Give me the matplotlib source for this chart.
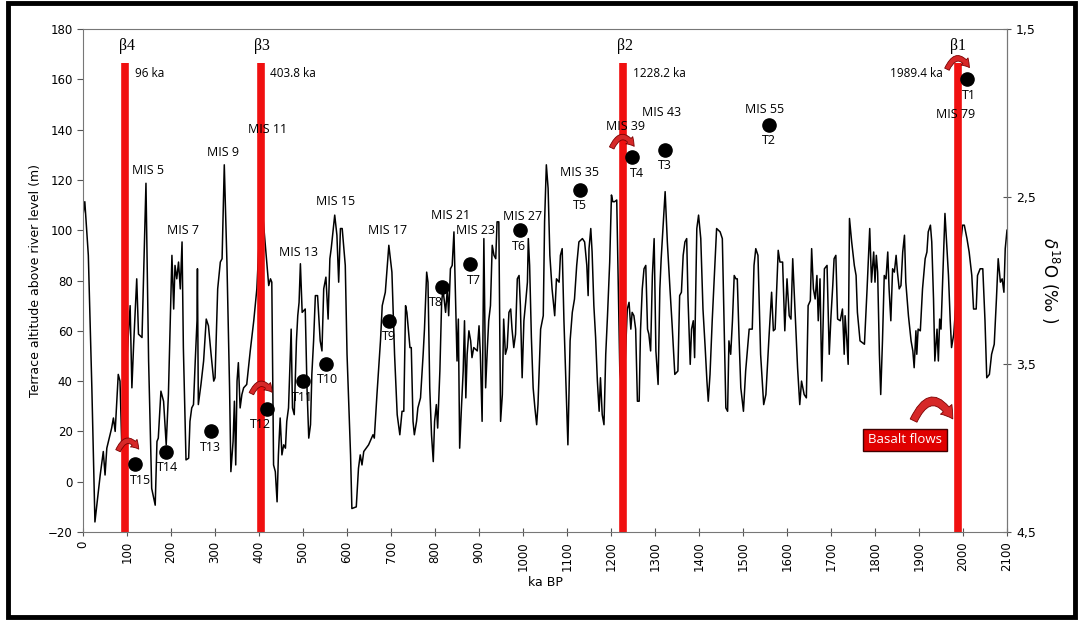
import matplotlib.pyplot as plt
from matplotlib.patches import FancyArrowPatch, Rectangle

# d18O curve (ka BP, permil)
ka = [0, 4, 12, 20, 27, 39, 46, 50, 54, 65, 69, 73, 80, 84, 88, 107, 111, 115, 122, 126,
      134, 143, 149, 156, 164, 168, 171, 177, 183, 189, 194, 202, 206, 209, 213, 217, 221, 225, 228, 234,
      240, 243, 247, 251, 255, 259, 260, 262, 268, 274, 280, 285, 291, 297, 300, 306, 312, 316, 321, 327,
      333, 336, 341, 344, 347, 350, 353, 357, 361, 365, 372, 380, 388, 395, 405, 418, 422, 426, 429, 433,
      437, 441, 444, 448, 452, 456, 460, 463, 467, 473, 476, 480, 485, 488, 491, 494, 498, 505, 509, 513,
      517, 520, 524, 528, 533, 539, 543, 547, 552, 557, 561, 564, 568, 572, 577, 581, 585, 589, 596, 600,
      608, 611, 621, 626, 630, 634, 638, 649, 659, 662, 668, 676, 680, 687, 695, 702, 708, 714, 720, 725,
      729, 733, 736, 743, 746, 750, 753, 758, 761, 767, 773, 776, 781, 784, 788, 792, 796, 799, 803, 806,
      811, 815, 818, 824, 828, 831, 835, 839, 843, 846, 850, 853, 856, 860, 864, 867, 870, 873, 877, 881,
      884, 888, 896, 900, 903, 907, 911, 915, 919, 922, 926, 930, 934, 938, 941, 945, 949, 953, 956, 960,
      964, 968, 972, 975, 979, 983, 987, 991, 994, 998, 1002, 1006, 1010, 1012, 1015, 1019, 1023, 1027, 1031, 1034,
      1040, 1046, 1049, 1053, 1057, 1061, 1066, 1072, 1076, 1082, 1085, 1089, 1093, 1098, 1102, 1107, 1112, 1117, 1122, 1127,
      1135, 1140, 1145, 1148, 1150, 1154, 1157, 1161, 1165, 1169, 1173, 1176, 1180, 1184, 1188, 1192, 1197, 1201, 1204, 1208,
      1213, 1216, 1220, 1228, 1237, 1241, 1245, 1248, 1252, 1256, 1260, 1264, 1267, 1271, 1275, 1279, 1283, 1286, 1290, 1294,
      1298, 1302, 1307, 1311, 1314, 1319, 1323, 1328, 1334, 1339, 1345, 1352, 1356, 1360, 1364, 1368, 1372, 1375, 1380, 1383,
      1387, 1390, 1395, 1399, 1404, 1409, 1414, 1418, 1421, 1425, 1430, 1436, 1440, 1448, 1453, 1457, 1461, 1465, 1468, 1472,
      1476, 1480, 1484, 1487, 1491, 1495, 1501, 1506, 1514, 1521, 1525, 1529, 1534, 1540, 1547, 1552, 1559, 1565, 1569, 1573,
      1580, 1584, 1590, 1595, 1600, 1605, 1609, 1613, 1616, 1624, 1629, 1633, 1639, 1644, 1648, 1653, 1656, 1660, 1664, 1668,
      1671, 1675, 1679, 1685, 1691, 1696, 1700, 1704, 1707, 1711, 1715, 1721, 1726, 1730, 1732, 1736, 1739, 1742, 1747, 1753,
      1757, 1760, 1766, 1776, 1782, 1785, 1788, 1792, 1797, 1800, 1803, 1806, 1810, 1813, 1817, 1821, 1825, 1829, 1832, 1836,
      1840, 1844, 1848, 1851, 1855, 1859, 1863, 1867, 1870, 1876, 1882, 1886, 1889, 1893, 1895, 1898, 1903, 1908, 1914, 1918,
      1921, 1926, 1929, 1933, 1936, 1941, 1944, 1947, 1950, 1955, 1959, 1964, 1967, 1971, 1974, 1979, 1990, 1999, 2003, 2009,
      2014, 2020, 2024, 2030, 2033, 2039, 2045, 2050, 2054, 2060, 2065, 2071, 2076, 2080, 2085, 2089, 2093, 2096, 2100]
d18o = [2.61, 2.53, 2.85, 3.64, 4.44, 4.16, 4.02, 4.16, 4.00, 3.88, 3.82, 3.90, 3.56, 3.60, 3.98, 3.15, 3.64, 3.38, 2.99, 3.32,
        3.34, 2.42, 3.48, 4.24, 4.34, 3.96, 3.94, 3.66, 3.72, 3.98, 3.68, 2.85, 3.17, 2.91, 2.99, 2.89, 3.05, 2.77, 3.40, 4.07,
        4.06, 3.84, 3.76, 3.74, 3.48, 3.24, 2.93, 3.74, 3.62, 3.48, 3.23, 3.27, 3.44, 3.60, 3.58, 3.05, 2.89, 2.87, 2.31, 2.89,
        3.64, 4.14, 3.96, 3.72, 4.10, 3.60, 3.49, 3.76, 3.68, 3.64, 3.62, 3.42, 3.24, 3.05, 2.50, 2.91, 3.03, 2.99, 3.01, 4.10,
        4.14, 4.32, 4.04, 3.82, 4.04, 3.98, 4.00, 3.84, 3.76, 3.29, 3.76, 3.80, 3.36, 3.21, 3.13, 2.90, 3.19, 3.17, 3.64, 3.94,
        3.86, 3.56, 3.36, 3.09, 3.09, 3.36, 3.42, 3.05, 2.98, 3.23, 2.87, 2.81, 2.71, 2.61, 2.73, 3.01, 2.69, 2.69, 2.91, 3.44,
        4.04, 4.36, 4.35, 4.12, 4.04, 4.10, 4.02, 3.98, 3.92, 3.94, 3.68, 3.36, 3.15, 3.07, 2.79, 2.95, 3.44, 3.80, 3.92, 3.78,
        3.78, 3.15, 3.19, 3.40, 3.40, 3.84, 3.92, 3.84, 3.76, 3.70, 3.44, 3.29, 2.95, 3.01, 3.64, 3.92, 4.08, 3.84, 3.74, 3.88,
        3.54, 3.13, 3.05, 3.19, 3.05, 3.21, 2.93, 2.91, 2.71, 3.05, 3.48, 3.23, 4.00, 3.76, 3.54, 3.24, 3.70, 3.44, 3.30, 3.36,
        3.46, 3.40, 3.42, 3.27, 3.44, 3.84, 2.75, 3.64, 3.40, 3.24, 3.15, 2.79, 2.85, 2.87, 2.65, 2.65, 3.84, 3.68, 3.23, 3.44,
        3.40, 3.19, 3.17, 3.29, 3.40, 3.32, 2.99, 2.97, 3.15, 3.58, 3.24, 3.13, 3.01, 2.75, 2.91, 3.34, 3.64, 3.76, 3.86, 3.74,
        3.29, 3.21, 2.65, 2.31, 2.45, 2.85, 3.05, 3.21, 2.99, 3.01, 2.85, 2.81, 3.24, 3.64, 3.98, 3.36, 3.19, 3.11, 2.91, 2.77,
        2.75, 2.77, 2.91, 3.09, 2.81, 2.69, 2.83, 3.15, 3.34, 3.60, 3.78, 3.58, 3.80, 3.86, 3.44, 3.21, 2.89, 2.49, 2.53, 2.53,
        2.52, 2.95, 3.54, 3.75, 3.17, 3.13, 3.29, 3.19, 3.21, 3.29, 3.72, 3.72, 3.30, 3.05, 2.93, 2.91, 3.29, 3.32, 3.42, 2.97,
        2.75, 3.42, 3.62, 3.05, 2.87, 2.65, 2.47, 2.77, 3.05, 3.27, 3.56, 3.54, 3.09, 3.07, 2.85, 2.77, 2.75, 3.11, 3.50, 3.29,
        3.24, 3.46, 2.69, 2.61, 2.75, 3.17, 3.40, 3.60, 3.72, 3.56, 3.24, 2.91, 2.69, 2.71, 2.75, 3.24, 3.76, 3.78, 3.36, 3.44,
        3.24, 2.97, 2.99, 2.99, 3.34, 3.64, 3.78, 3.54, 3.29, 3.29, 2.91, 2.81, 2.85, 3.44, 3.74, 3.68, 3.34, 3.07, 3.30, 3.29,
        2.82, 2.89, 2.89, 3.30, 2.99, 3.21, 3.23, 2.87, 3.05, 3.52, 3.74, 3.60, 3.68, 3.70, 3.15, 3.12, 2.81, 3.05, 3.11, 2.97,
        3.24, 2.99, 3.60, 2.93, 2.91, 3.44, 3.21, 3.03, 2.87, 2.85, 3.23, 3.24, 3.17, 3.44, 3.21, 3.36, 3.50, 2.63, 2.77, 2.91,
        2.97, 3.19, 3.36, 3.38, 3.05, 2.87, 2.69, 3.01, 2.83, 3.01, 2.85, 2.95, 3.44, 3.68, 3.36, 2.97, 2.99, 2.83, 3.05, 3.24,
        2.93, 2.95, 2.85, 2.95, 3.05, 3.03, 2.83, 2.73, 3.01, 3.21, 3.36, 3.42, 3.52, 3.30, 3.44, 3.29, 3.30, 3.05, 2.87, 2.83,
        2.71, 2.67, 2.77, 3.11, 3.48, 3.29, 3.48, 3.23, 3.29, 2.91, 2.60, 2.83, 2.97, 3.24, 3.40, 3.32, 2.90, 2.67, 2.67, 2.75,
        2.83, 2.97, 3.17, 3.17, 2.97, 2.93, 2.93, 3.24, 3.58, 3.56, 3.44, 3.38, 3.11, 2.87, 3.01, 2.99, 3.07, 2.81, 2.70]

# terraces
terr_names = ['T1', 'T2', 'T3', 'T4', 'T5', 'T6', 'T7', 'T8', 'T9', 'T10', 'T11', 'T12', 'T13', 'T14', 'T15']
terr_age = [2010, 1559, 1323, 1247, 1129, 994, 880, 815, 696, 553, 501, 419, 290, 189, 117]
terr_alt = [160, 142, 132, 129, 116, 100, 86.5, 77.5, 64, 47, 40, 29, 20, 12, 7]

# basalt flows
basalt_names = ['β4', 'β3', 'β2', 'β1']
basalt_age = [96, 403.8, 1228.2, 1989.4]

# MIS labels
mis_names = ['MIS 5', 'MIS 7', 'MIS 9', 'MIS 11', 'MIS 13', 'MIS 15', 'MIS 17', 'MIS 21', 'MIS 23',
             'MIS 27', 'MIS 35', 'MIS 39', 'MIS 43', 'MIS 55', 'MIS 79']
mis_pos = [(148, 123.6), (227, 100), (318, 131), (419, 140), (489, 91.3), (573, 111.3), (692, 99.7),
           (835, 106), (892, 100), (999, 105.6), (1129, 122.8), (1233, 141.2), (1315, 146.8),
           (1549, 148), (1984, 146)]


def d_to_alt(d):
    return 180 - (d - 1.5) / 0.015


def alt_to_d(a):
    return 1.5 + (180 - a) * 0.015


fig = plt.figure(figsize=(10.8, 6.21), dpi=100)
ax = fig.add_axes([0.0769, 0.1433, 0.8555, 0.81])
fs = 9
afont = 'Open Sans'

ax.plot(ka, [d_to_alt(v) for v in d18o], color='black', lw=1.1, zorder=2)

for a in basalt_age:
    ax.plot([a, a], [-20, 166.3], color='#f01010', lw=5.5, solid_capstyle='butt', zorder=2.5)

ax.plot(terr_age, terr_alt, 'o', color='black', ms=9.5, zorder=4)

t_dx = [1, 0, 0, 4, 0, -1, 3, -4, 0, 1, -1, -5, 0, 1, 4]
for name, a, h, dx in zip(terr_names, terr_age, terr_alt, t_dx):
    ax.annotate(name, (a, h), xytext=(dx, -11.5), textcoords='offset points',
                ha='center', va='center', fontsize=fs, family=afont, zorder=5)

for name, (x, y) in zip(mis_names, mis_pos):
    ax.text(x, y, name, ha='center', va='center', fontsize=fs, family=afont, zorder=5)

beta_dx = [4, 3, 3, -1]
for name, a, dx in zip(basalt_names, basalt_age, beta_dx):
    ax.text(a + dx, 173.3, name, ha='center', va='center', fontsize=11.5,
            family='Liberation Serif', zorder=5)
for a in basalt_age[:3]:
    ax.text(a + 22, 162.3, '%g ka' % a, ha='left', va='center', fontsize=8.5, family=afont, zorder=5)
ax.text(basalt_age[3] - 35, 162.3, '%g ka' % basalt_age[3], ha='right', va='center',
        fontsize=8.5, family=afont, zorder=5)

# curved arrows
arrows = [((77, 11.3), (130, 12), 8), ((380, 34), (433, 34.6), 8),
          ((1199, 131.7), (1256, 132.4), 8), ((1961, 163), (2018, 163.7), 8),
          ((1885, 23.3), (1980, 24), 12)]
for p0, p1, s in arrows:
    arr = FancyArrowPatch(p0, p1, connectionstyle='arc3,rad=-1.0',
                          arrowstyle='simple,head_width=0.9,head_length=0.7,tail_width=0.45',
                          mutation_scale=s, fc='#d62828', ec='#7a0000', lw=0.6, zorder=6)
    ax.add_patch(arr)

ax.text(1868, 16.6, 'Basalt flows', ha='center', va='center', fontsize=9.5, color='white',
        family=afont, zorder=6,
        bbox=dict(boxstyle='square,pad=0.35', fc='#e00000', ec='#400000', lw=1))

ax.set_xlim(0, 2100)
ax.set_ylim(-20, 180)
ax.set_xticks(range(0, 2101, 100))
ax.set_xticklabels([str(v) for v in range(0, 2101, 100)], rotation=90, fontsize=8.5)
ax.set_yticks(range(-20, 181, 20))
ax.tick_params(axis='y', labelsize=8.5, direction='out', length=4, color='#555555')
ax.tick_params(axis='x', direction='inout', length=6, color='#555555')
ax.set_xlabel('ka BP', fontsize=9)
ax.set_ylabel('Terrace altitude above river level (m)', fontsize=9)
for sp in ax.spines.values():
    sp.set_color('#777777')

sec = ax.secondary_yaxis('right', functions=(alt_to_d, d_to_alt))
sec.set_yticks([1.5, 2.5, 3.5, 4.5])
sec.set_yticklabels(['1,5', '2,5', '3,5', '4,5'])
sec.tick_params(labelsize=9, direction='inout', length=6, color='#555555')
sec.spines['right'].set_color('#777777')
sec.set_ylabel(r'$\delta^{18}$O (‰ )', fontsize=12, rotation=270, labelpad=18)

fig.add_artist(Rectangle((0.007, 0.006), 0.988, 0.989, transform=fig.transFigure,
                         fill=False, ec='black', lw=3.5))

fig.savefig('out.png', dpi=100)
